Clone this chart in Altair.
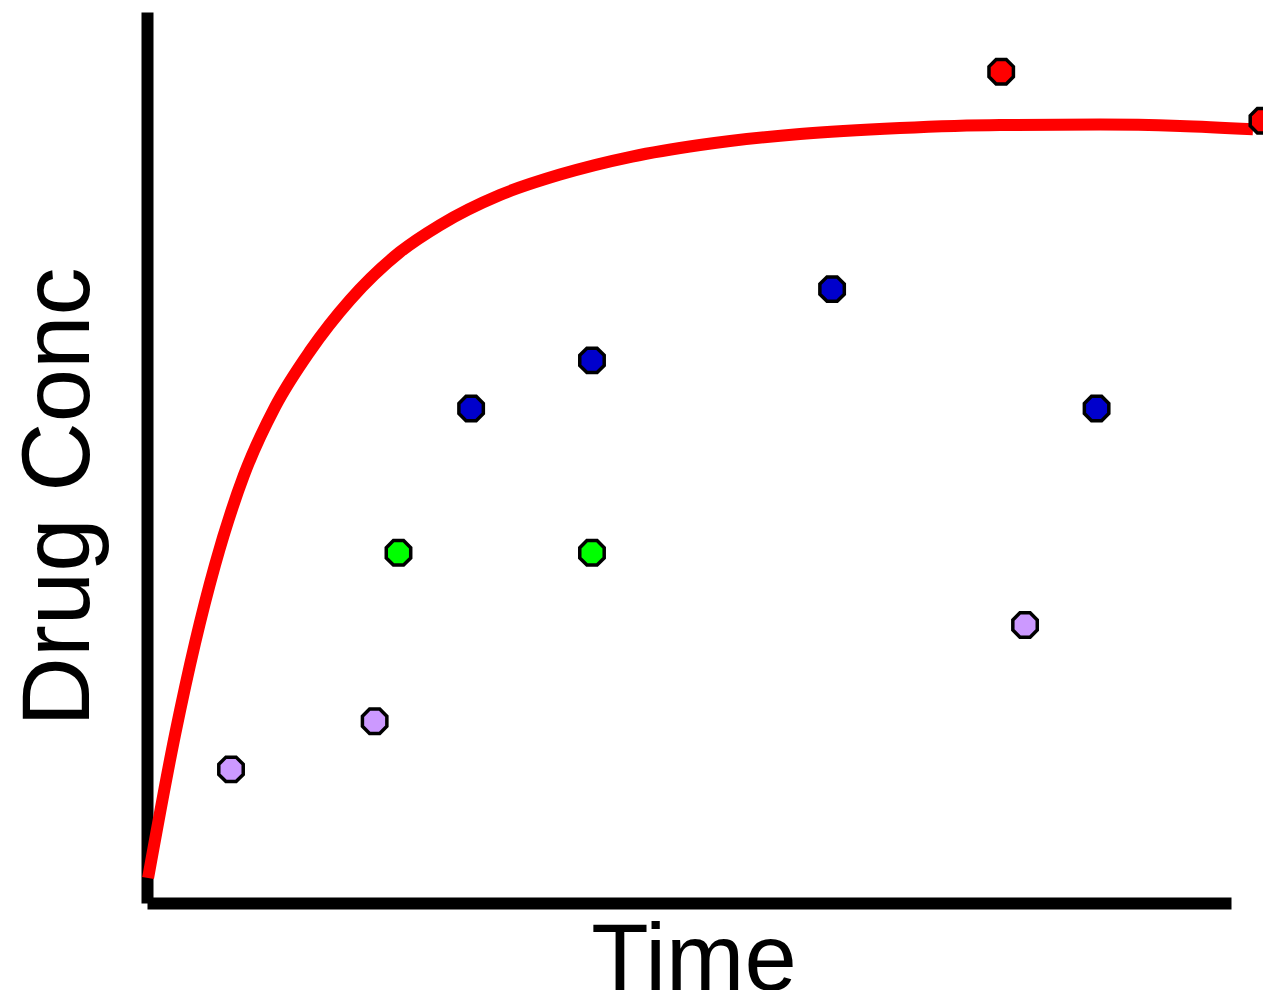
import altair as alt
import pandas as pd

# Fitted concentration curve
curve_time = [0.1, 2.58, 4.43, 6.27, 8.95, 11.81, 15.04, 18.73, 23.34, 27.03, 32.56, 38.10,
              44.74, 51.01, 60.24, 69.46, 78.69, 87.92, 95.30, 102.03]
curve_conc = [2.81, 18.86, 29.18, 37.93, 48.04, 55.67, 61.95, 67.68, 73.06, 76.09, 79.46, 81.75,
              83.77, 85.07, 86.31, 86.98, 87.32, 87.37, 87.21, 86.83]

# Observed points
pt_time = [7.75, 21.0, 81.0, 23.2, 41.05, 29.9, 41.05, 63.2, 87.6, 78.8, 102.9]
pt_conc = [15.0, 20.4, 31.2, 39.3, 39.3, 55.5, 60.9, 68.9, 55.5, 93.3, 87.8]
pt_group = ["lavender", "lavender", "lavender", "green", "green",
            "blue", "blue", "blue", "blue", "red", "red"]

group_names = ["lavender", "green", "blue", "red"]
group_colors = ["#CC99FF", "#00FF00", "#0000CC", "#FF0000"]

curve_df = pd.DataFrame({"Time": curve_time, "Conc": curve_conc})
pts_df = pd.DataFrame({"Time": pt_time, "Conc": pt_conc, "Group": pt_group})

xscale = alt.Scale(domain=[0, 100], nice=False, zero=False)
yscale = alt.Scale(domain=[0, 100], nice=False, zero=False)

xaxis = alt.Axis(title="Time", ticks=False, labels=False, grid=False,
                 domainColor="black", domainWidth=12,
                 titleFont="Liberation Sans", titleFontSize=94, titleFontWeight="normal",
                 titleColor="black", titleBaseline="alphabetic", titleAlign="center",
                 titleX=546.5, titleY=86)
yaxis = alt.Axis(title="Drug Conc", ticks=False, labels=False, grid=False,
                 domainColor="black", domainWidth=12,
                 titleFont="Liberation Sans", titleFontSize=96, titleFontWeight="normal",
                 titleColor="black", titleBaseline="alphabetic", titleAlign="center",
                 titleAngle=270, titleX=-59, titleY=484.5)

OCTAGON = ("M -0.383 -0.924 L 0.383 -0.924 L 0.924 -0.383 L 0.924 0.383 "
           "L 0.383 0.924 L -0.383 0.924 L -0.924 0.383 L -0.924 -0.383 Z")

line = alt.Chart(curve_df).mark_line(color="#FF0000", strokeWidth=12, interpolate="monotone").encode(
    x=alt.X("Time:Q", scale=xscale, axis=xaxis),
    y=alt.Y("Conc:Q", scale=yscale, axis=yaxis),
)

points = alt.Chart(pts_df).mark_point(filled=True, size=700, stroke="black", strokeWidth=3.5,
                                      opacity=1, fillOpacity=1, strokeOpacity=1, shape=OCTAGON).encode(
    x=alt.X("Time:Q", scale=xscale),
    y=alt.Y("Conc:Q", scale=yscale),
    fill=alt.Fill("Group:N", scale=alt.Scale(domain=group_names, range=group_colors), legend=None),
)

chart = alt.layer(line, points).properties(
    width=1084, height=891,
    autosize=alt.AutoSizeParams(type="none"),
    padding={"left": 139, "top": 4, "right": 32, "bottom": 87},
    background="white",
).configure_view(strokeWidth=0)

chart.save("out.html", embed_options={"renderer": "svg", "actions": False})
